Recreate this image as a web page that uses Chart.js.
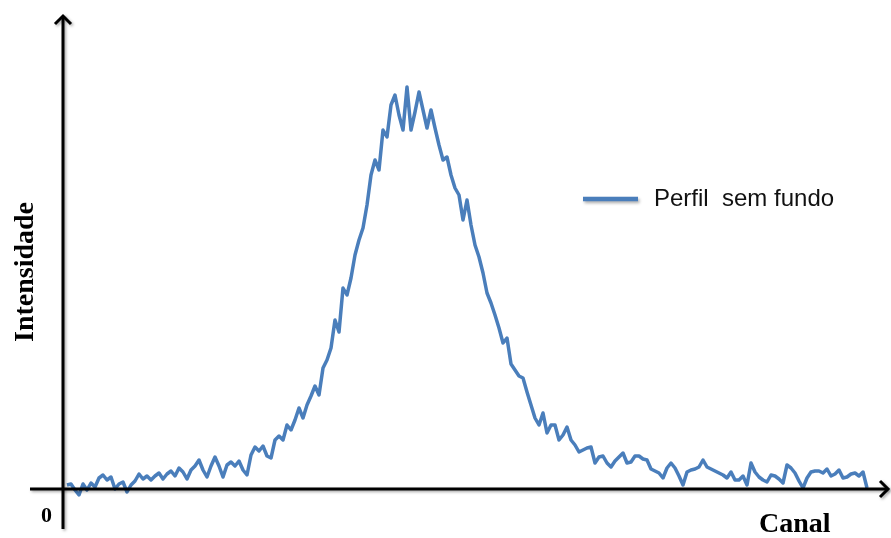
<!DOCTYPE html>
<html>
<head>
<meta charset="utf-8">
<script src="https://cdn.jsdelivr.net/npm/chart.js@4/dist/chart.umd.min.js"></script>
<style>
  html, body { margin: 0; padding: 0; background: #ffffff; }
  #wrap { width: 891px; height: 538px; position: relative; }
</style>
</head>
<body>
<div id="wrap"><canvas id="c" width="891" height="538"></canvas></div>
<script>
// Channel numbers (x) for each sample of the profile
const canal = [
  2, 4, 6, 8, 10, 12, 14, 16, 18, 20, 22, 24, 26, 28, 30, 32, 34, 36, 38, 40,
  42, 44, 46, 48, 50, 52, 54, 56, 58, 60, 62, 64, 66, 68, 70, 72, 74, 76, 78, 80,
  82, 84, 86, 88, 90, 92, 94, 96, 98, 100, 102, 104, 106, 108, 110, 112, 114, 116, 118, 120,
  122, 124, 126, 128, 130, 132, 134, 136, 138, 140, 142, 144, 146, 148, 150, 152, 154, 156, 158, 160,
  162, 164, 166, 168, 170, 172, 174, 176, 178, 180, 182, 184, 186, 188, 190, 192, 194, 196, 198, 200,
  202, 204, 206, 208, 210, 212, 214, 216, 218, 220, 222, 224, 226, 228, 230, 232, 234, 236, 238, 240,
  242, 244, 246, 248, 250, 252, 254, 256, 258, 260, 262, 264, 266, 268, 270, 272, 274, 276, 278, 280,
  282, 284, 286, 288, 290, 292, 294, 296, 298, 300, 302, 304, 306, 308, 310, 312, 314, 316, 318, 320,
  322, 324, 326, 328, 330, 332, 334, 336, 338, 340, 342, 344, 346, 348, 350, 352, 354, 356, 358, 360,
  362, 364, 366, 368, 370, 372, 374, 376, 378, 380, 382, 384, 386, 388, 390, 392, 394, 396, 398, 400,
  402
];

// Background-subtracted intensity for each channel
const intensidade = [
  4, 5, -1, -6, 5, -1, 6, 2, 11, 14, 9, 12, 0, 5, 7, -3, 4, 8, 15, 10,
  13, 9, 13, 16, 10, 15, 18, 13, 21, 17, 10, 19, 23, 29, 19, 12, 23, 32, 23, 12,
  24, 27, 23, 28, 19, 14, 34, 42, 38, 43, 33, 31, 49, 53, 49, 64, 59, 69, 81, 71,
  84, 93, 103, 94, 121, 129, 141, 169, 157, 201, 194, 211, 234, 249, 261, 284, 314, 329, 319, 359,
  352, 384, 394, 374, 359, 402, 359, 377, 397, 379, 361, 379, 361, 344, 329, 332, 314, 301, 294, 269,
  289, 264, 244, 232, 216, 196, 186, 174, 161, 146, 151, 125, 119, 113, 111, 97, 84, 71, 64, 76,
  56, 64, 64, 49, 54, 62, 49, 44, 37, 39, 41, 42, 26, 32, 33, 26, 22, 28, 32, 36,
  26, 27, 33, 33, 30, 29, 20, 18, 16, 11, 21, 26, 21, 13, 4, 17, 19, 20, 22, 29,
  22, 20, 18, 16, 14, 11, 17, 9, 9, 13, 4, 26, 17, 12, 9, 7, 14, 13, 10, 6,
  24, 21, 16, 8, 1, 11, 17, 18, 18, 16, 20, 13, 15, 19, 11, 12, 15, 16, 13, 17,
  1
];

const serieNome = 'Perfil  sem fundo';
const tituloX = 'Canal';
const tituloY = 'Intensidade';
const origemTexto = '0';

const azul = '#4a7ebb';

// Draws the arrowed axes, axis titles and the legend entry using the chart's scales
const eixosPlugin = {
  id: 'eixos',
  afterDatasetsDraw(chart) {
    const ctx = chart.ctx;
    const xs = chart.scales.x;
    const ys = chart.scales.y;
    const x0 = Math.round(xs.getPixelForValue(0));
    const y0 = Math.round(ys.getPixelForValue(0));
    const xEnd = xs.right;
    const yTop = ys.top;

    ctx.save();
    ctx.shadowColor = 'rgba(0,0,0,0.35)';
    ctx.shadowBlur = 3;
    ctx.shadowOffsetX = 1.5;
    ctx.shadowOffsetY = 1.5;
    ctx.strokeStyle = '#000';
    ctx.lineWidth = 3;
    ctx.lineCap = 'butt';
    ctx.lineJoin = 'miter';

    // horizontal axis
    ctx.beginPath();
    ctx.moveTo(30, y0);
    ctx.lineTo(xEnd - 1, y0);
    ctx.stroke();
    ctx.beginPath();
    ctx.moveTo(xEnd - 9, y0 - 8);
    ctx.lineTo(xEnd - 1, y0);
    ctx.lineTo(xEnd - 9, y0 + 8);
    ctx.stroke();

    // vertical axis
    ctx.beginPath();
    ctx.moveTo(x0, 529);
    ctx.lineTo(x0, yTop + 1);
    ctx.stroke();
    ctx.beginPath();
    ctx.moveTo(x0 - 8, yTop + 9);
    ctx.lineTo(x0, yTop + 1);
    ctx.lineTo(x0 + 8, yTop + 9);
    ctx.stroke();

    // legend sample line
    ctx.shadowColor = 'rgba(0,0,0,0.3)';
    ctx.shadowBlur = 3;
    ctx.shadowOffsetX = 1.5;
    ctx.shadowOffsetY = 2;
    ctx.strokeStyle = chart.data.datasets[0].borderColor;
    ctx.lineWidth = 4.5;
    ctx.beginPath();
    ctx.moveTo(583, 199);
    ctx.lineTo(638, 199);
    ctx.stroke();
    ctx.restore();

    ctx.save();
    ctx.fillStyle = '#111';
    ctx.font = '24px "Liberation Sans", Arial, sans-serif';
    ctx.textBaseline = 'middle';
    ctx.textAlign = 'left';
    ctx.fillText(chart.data.datasets[0].label, 654, 199);

    ctx.fillStyle = '#000';
    ctx.font = 'bold 28px "Liberation Serif", "Times New Roman", serif';
    ctx.textBaseline = 'alphabetic';
    ctx.textAlign = 'left';
    ctx.fillText(tituloX, 759, 532);

    ctx.font = 'bold 22px "Liberation Serif", "Times New Roman", serif';
    ctx.fillText(origemTexto, 41, 522);

    ctx.translate(33, 272);
    ctx.rotate(-Math.PI / 2);
    ctx.font = 'bold 28px "Liberation Serif", "Times New Roman", serif';
    ctx.textAlign = 'center';
    ctx.fillText(tituloY, 0, 0);
    ctx.restore();
  }
};

new Chart(document.getElementById('c'), {
  type: 'line',
  data: {
    labels: canal,
    datasets: [{
      label: serieNome,
      data: intensidade,
      borderColor: azul,
      borderWidth: 3.5,
      borderJoinStyle: 'round',
      pointRadius: 0,
      tension: 0,
      fill: false,
      clip: false
    }]
  },
  options: {
    responsive: false,
    animation: false,
    devicePixelRatio: 1,
    layout: { padding: { left: 63, right: 2, top: 15, bottom: 0 } },
    plugins: {
      legend: { display: false },
      tooltip: { enabled: false }
    },
    scales: {
      x: { type: 'linear', min: 0, max: 413, display: false },
      y: { type: 'linear', min: -49, max: 474, display: false }
    }
  },
  plugins: [eixosPlugin]
});
</script>
</body>
</html>
